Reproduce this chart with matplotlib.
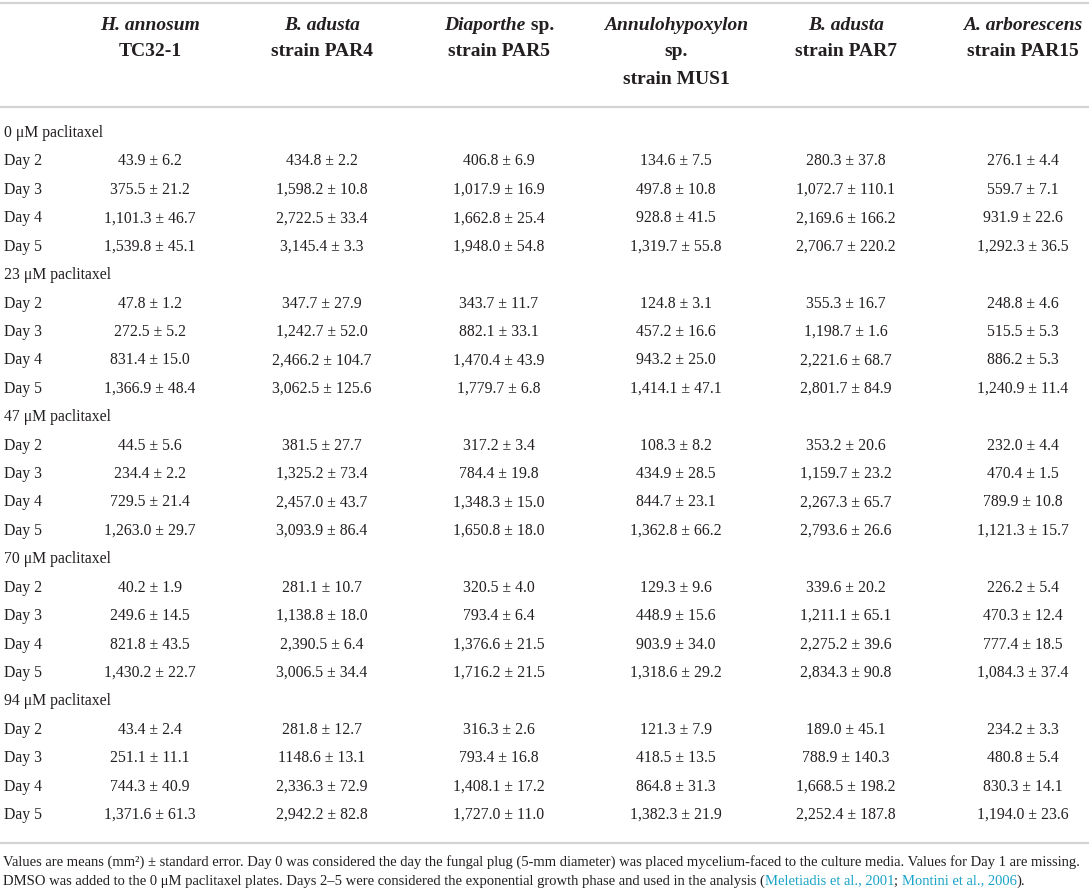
import matplotlib
matplotlib.use("Agg")
import matplotlib.pyplot as plt

W, H = 1089, 893
FONT = "Liberation Serif"

strain_names = [
    [[("H. annosum", "italic")], [("TC32-1", "normal")]],
    [[("B. adusta", "italic")], [("strain PAR4", "normal")]],
    [[("Diaporthe", "italic"), (" sp.", "normal")], [("strain PAR5", "normal")]],
    [[("Annulohypoxylon", "italic")], [("sp.", "normal")], [("strain MUS1", "normal")]],
    [[("B. adusta", "italic")], [("strain PAR7", "normal")]],
    [[("A. arborescens", "italic")], [("strain PAR15", "normal")]],
]

concentrations = ["0 μM paclitaxel", "23 μM paclitaxel", "47 μM paclitaxel",
                  "70 μM paclitaxel", "94 μM paclitaxel"]
days = ["Day 2", "Day 3", "Day 4", "Day 5"]

values_0uM = [
    ["43.9 ± 6.2", "434.8 ± 2.2", "406.8 ± 6.9", "134.6 ± 7.5", "280.3 ± 37.8", "276.1 ± 4.4"],
    ["375.5 ± 21.2", "1,598.2 ± 10.8", "1,017.9 ± 16.9", "497.8 ± 10.8", "1,072.7 ± 110.1", "559.7 ± 7.1"],
    ["1,101.3 ± 46.7", "2,722.5 ± 33.4", "1,662.8 ± 25.4", "928.8 ± 41.5", "2,169.6 ± 166.2", "931.9 ± 22.6"],
    ["1,539.8 ± 45.1", "3,145.4 ± 3.3", "1,948.0 ± 54.8", "1,319.7 ± 55.8", "2,706.7 ± 220.2", "1,292.3 ± 36.5"],
]
values_23uM = [
    ["47.8 ± 1.2", "347.7 ± 27.9", "343.7 ± 11.7", "124.8 ± 3.1", "355.3 ± 16.7", "248.8 ± 4.6"],
    ["272.5 ± 5.2", "1,242.7 ± 52.0", "882.1 ± 33.1", "457.2 ± 16.6", "1,198.7 ± 1.6", "515.5 ± 5.3"],
    ["831.4 ± 15.0", "2,466.2 ± 104.7", "1,470.4 ± 43.9", "943.2 ± 25.0", "2,221.6 ± 68.7", "886.2 ± 5.3"],
    ["1,366.9 ± 48.4", "3,062.5 ± 125.6", "1,779.7 ± 6.8", "1,414.1 ± 47.1", "2,801.7 ± 84.9", "1,240.9 ± 11.4"],
]
values_47uM = [
    ["44.5 ± 5.6", "381.5 ± 27.7", "317.2 ± 3.4", "108.3 ± 8.2", "353.2 ± 20.6", "232.0 ± 4.4"],
    ["234.4 ± 2.2", "1,325.2 ± 73.4", "784.4 ± 19.8", "434.9 ± 28.5", "1,159.7 ± 23.2", "470.4 ± 1.5"],
    ["729.5 ± 21.4", "2,457.0 ± 43.7", "1,348.3 ± 15.0", "844.7 ± 23.1", "2,267.3 ± 65.7", "789.9 ± 10.8"],
    ["1,263.0 ± 29.7", "3,093.9 ± 86.4", "1,650.8 ± 18.0", "1,362.8 ± 66.2", "2,793.6 ± 26.6", "1,121.3 ± 15.7"],
]
values_70uM = [
    ["40.2 ± 1.9", "281.1 ± 10.7", "320.5 ± 4.0", "129.3 ± 9.6", "339.6 ± 20.2", "226.2 ± 5.4"],
    ["249.6 ± 14.5", "1,138.8 ± 18.0", "793.4 ± 6.4", "448.9 ± 15.6", "1,211.1 ± 65.1", "470.3 ± 12.4"],
    ["821.8 ± 43.5", "2,390.5 ± 6.4", "1,376.6 ± 21.5", "903.9 ± 34.0", "2,275.2 ± 39.6", "777.4 ± 18.5"],
    ["1,430.2 ± 22.7", "3,006.5 ± 34.4", "1,716.2 ± 21.5", "1,318.6 ± 29.2", "2,834.3 ± 90.8", "1,084.3 ± 37.4"],
]
values_94uM = [
    ["43.4 ± 2.4", "281.8 ± 12.7", "316.3 ± 2.6", "121.3 ± 7.9", "189.0 ± 45.1", "234.2 ± 3.3"],
    ["251.1 ± 11.1", "1148.6 ± 13.1", "793.4 ± 16.8", "418.5 ± 13.5", "788.9 ± 140.3", "480.8 ± 5.4"],
    ["744.3 ± 40.9", "2,336.3 ± 72.9", "1,408.1 ± 17.2", "864.8 ± 31.3", "1,668.5 ± 198.2", "830.3 ± 14.1"],
    ["1,371.6 ± 61.3", "2,942.2 ± 82.8", "1,727.0 ± 11.0", "1,382.3 ± 21.9", "2,252.4 ± 187.8", "1,194.0 ± 23.6"],
]
all_values = [values_0uM, values_23uM, values_47uM, values_70uM, values_94uM]

footer_line1 = [("Values are means (mm²) ± standard error. Day 0 was considered the day the fungal plug "
                 "(5-mm diameter) was placed mycelium-faced to the culture media. Values for Day 1 are missing.", "text")]
footer_line2 = [("DMSO was added to the 0 μM paclitaxel plates. Days 2–5 were considered the exponential "
                 "growth phase and used in the analysis (", "text"),
                ("Meletiadis et al., 2001", "link"), ("; ", "text"),
                ("Montini et al., 2006", "link"), (").", "text")]

# ---- layout ----
col_x = [150, 322, 499, 676, 846, 1023]
label_x = 4
row_y0 = 133
row_dy = 28.42
head_y = [25, 52, 79]
body_size = 11.3
head_size = 14.0
text_color = "#231f20"
link_color = "#1aa3c8"
rule_color = "#d3d3d3"

fig = plt.figure(figsize=(W / 100, H / 100), dpi=100)
ax = fig.add_axes([0, 0, 1, 1])
ax.set_xlim(0, W)
ax.set_ylim(H, 0)
ax.axis("off")
renderer = fig.canvas.get_renderer()

for y in (3, 107, 843):
    ax.plot([0, W], [y, y], color=rule_color, lw=1.6, solid_capstyle="butt")


def width_of(t):
    bb = t.get_window_extent(renderer=renderer)
    return bb.width


def draw_segments(segs, x, y, ha, size, weight="normal", colors=None):
    texts = []
    for s, st in segs:
        style = st if st in ("italic", "normal") else "normal"
        col = text_color
        if colors is not None:
            col = colors.get(st, text_color)
        t = ax.text(0, y, s, fontsize=size, family=FONT, fontstyle=style,
                    fontweight=weight, color=col, va="center", ha="left")
        texts.append(t)
    widths = [width_of(t) for t in texts]
    total = sum(widths)
    start = x - total / 2 if ha == "center" else x
    for t, w in zip(texts, widths):
        t.set_x(start)
        start += w
    return total


# headers
for cx, lines in zip(col_x, strain_names):
    for li, segs in enumerate(lines):
        draw_segments(segs, cx, head_y[li], "center", head_size, weight="bold")

# body
r = 0
for conc, block in zip(concentrations, all_values):
    y = row_y0 + r * row_dy
    ax.text(label_x, y, conc, fontsize=body_size, family=FONT, color=text_color,
            va="center", ha="left")
    r += 1
    for day, row in zip(days, block):
        y = row_y0 + r * row_dy
        ax.text(label_x, y, day, fontsize=body_size, family=FONT, color=text_color,
                va="center", ha="left")
        for cx, val in zip(col_x, row):
            ax.text(cx, y, val, fontsize=body_size, family=FONT, color=text_color,
                    va="center", ha="center")
        r += 1

# footer: fit line 1 to the table width
probe = ax.text(0, 0, footer_line1[0][0], fontsize=10, family=FONT)
fsize = 10 * (1079 / width_of(probe))
probe.remove()
cmap = {"text": text_color, "link": link_color}
draw_segments(footer_line1, 3, 862, "left", fsize, colors=cmap)
draw_segments(footer_line2, 3, 881, "left", fsize, colors=cmap)

fig.savefig("out.png", dpi=100)
